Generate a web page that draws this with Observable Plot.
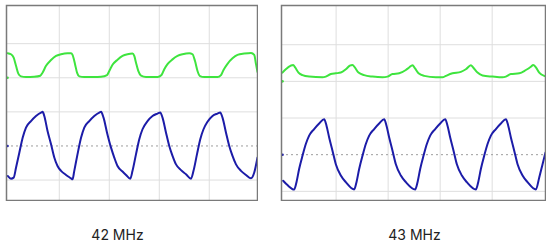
<!DOCTYPE html>
<html>
<head>
<meta charset="utf-8">
<script src="https://cdn.jsdelivr.net/npm/d3@7"></script>
<script src="https://cdn.jsdelivr.net/npm/@observablehq/plot@0.6"></script>
<style>
  html, body { margin: 0; padding: 0; background: #fff; }
  #root { position: relative; width: 550px; height: 246px; overflow: hidden; }
  .panel { position: absolute; }
  .label { position: absolute; font-family: Inter, "Noto Sans", sans-serif; font-size: 14px; color: #222; transform: translateX(-50%); white-space: nowrap; }
</style>
</head>
<body>
<div id="root"></div>
<script>
// time in ns (20 ns/div), amplitude in screen divisions
const panelLabels = ["42 MHz", "43 MHz"];
const timeGrid = [20, 40, 60, 80];
const levelGrid = [-1, 1, 2, 3];

const green42 = [[-0.65,2.72],[0.68,2.69],[1.75,2.59],[2.68,2.35],[3.61,2.12],[4.68,2.04],[6.68,2.02],[10.0,2.03],[12.4,2.06],[13.3,2.15],[14.7,2.35],[16.7,2.52],[18.7,2.64],[20.7,2.69],[23.3,2.72],[24.7,2.72],[25.3,2.67],[26.3,2.40],[27.1,2.15],[28.0,2.04],[30.0,2.02],[34.0,2.02],[36.7,2.03],[39.1,2.08],[40.0,2.20],[41.3,2.38],[43.3,2.53],[45.3,2.64],[47.3,2.69],[49.3,2.71],[50.0,2.64],[50.7,2.44],[51.6,2.20],[52.7,2.06],[54.7,2.02],[59.3,2.02],[60.9,2.08],[62.0,2.25],[63.3,2.40],[65.3,2.54],[67.3,2.64],[69.3,2.69],[72.0,2.72],[73.3,2.69],[74.3,2.49],[75.3,2.20],[76.3,2.05],[78.0,2.02],[83.3,2.02],[84.7,2.08],[85.7,2.23],[87.3,2.41],[89.3,2.57],[91.3,2.67],[94.0,2.71],[96.7,2.73],[98.0,2.67],[98.7,2.40],[99.3,2.17]];

const blue42 = [[-0.65,-0.88],[0.68,-0.96],[1.75,-0.93],[2.68,-0.64],[4.01,-0.20],[5.34,0.24],[6.68,0.54],[8.68,0.73],[10.68,0.88],[12.68,0.98],[13.34,1.0],[14.0,0.88],[15.3,0.44],[16.7,0.05],[18.0,-0.34],[19.3,-0.59],[20.7,-0.73],[22.7,-0.85],[24.7,-0.95],[25.3,-0.98],[26.0,-0.73],[27.3,-0.24],[28.7,0.24],[30.0,0.54],[32.0,0.73],[34.0,0.88],[36.0,0.98],[36.7,1.0],[37.7,0.83],[39.1,0.39],[40.7,-0.05],[42.0,-0.34],[43.3,-0.59],[45.3,-0.75],[46.7,-0.85],[48.4,-0.96],[49.3,-0.73],[50.7,-0.24],[52.0,0.20],[53.3,0.49],[55.3,0.73],[57.3,0.88],[59.3,0.95],[60.4,0.98],[61.3,0.83],[62.7,0.39],[64.0,0.0],[65.3,-0.29],[66.7,-0.54],[68.7,-0.71],[70.7,-0.83],[72.7,-0.96],[73.7,-0.73],[75.1,-0.24],[76.4,0.20],[77.7,0.49],[79.3,0.71],[81.3,0.88],[83.3,0.95],[84.4,0.98],[85.3,0.83],[86.7,0.39],[88.0,0.0],[89.3,-0.29],[90.7,-0.54],[92.7,-0.73],[94.7,-0.85],[96.7,-0.95],[98.0,-0.78],[99.3,-0.34]];

const green43 = [[-0.63,2.24],[0.66,2.33],[2.58,2.43],[3.48,2.45],[4.25,2.38],[5.53,2.24],[7.07,2.17],[9.63,2.13],[14.76,2.11],[16.04,2.13],[17.96,2.20],[19.89,2.22],[21.81,2.24],[23.73,2.33],[25.27,2.43],[26.30,2.45],[27.19,2.38],[28.6,2.24],[30.78,2.17],[33.99,2.13],[37.83,2.11],[39.76,2.13],[41.68,2.20],[44.24,2.22],[46.81,2.31],[48.09,2.38],[49.37,2.44],[50.27,2.36],[51.68,2.22],[53.86,2.15],[58.35,2.11],[60.91,2.11],[62.19,2.15],[64.75,2.22],[67.96,2.26],[69.88,2.33],[71.81,2.44],[72.70,2.38],[74.37,2.24],[76.29,2.16],[80.14,2.13],[83.99,2.11],[85.27,2.13],[87.19,2.20],[90.40,2.22],[92.96,2.31],[94.88,2.40],[95.78,2.45],[96.81,2.38],[98.09,2.24],[100.0,2.15],[100.5,2.14]];

const blue43 = [[-0.37,-0.71],[1.30,-0.83],[3.86,-0.95],[4.76,-0.75],[5.78,-0.39],[7.07,-0.03],[8.35,0.29],[9.63,0.52],[11.55,0.70],[13.48,0.85],[15.40,0.97],[16.30,0.79],[17.32,0.47],[18.60,0.11],[19.89,-0.26],[21.81,-0.57],[23.73,-0.75],[26.94,-0.95],[27.83,-0.75],[28.86,-0.39],[30.14,-0.03],[31.42,0.29],[32.71,0.52],[34.63,0.70],[36.55,0.85],[38.48,0.97],[39.37,0.79],[40.40,0.47],[41.68,0.11],[42.96,-0.26],[44.89,-0.57],[46.81,-0.75],[50.40,-0.95],[51.30,-0.75],[52.32,-0.39],[53.60,-0.03],[54.88,0.29],[56.17,0.52],[58.09,0.70],[60.01,0.85],[61.94,0.97],[62.83,0.79],[63.86,0.47],[65.14,0.11],[66.42,-0.26],[68.35,-0.57],[70.27,-0.75],[73.73,-0.95],[74.63,-0.75],[75.65,-0.39],[76.93,-0.03],[78.22,0.29],[79.50,0.52],[81.42,0.70],[83.35,0.85],[85.27,0.97],[86.17,0.79],[87.19,0.47],[88.47,0.11],[89.76,-0.26],[91.68,-0.57],[93.60,-0.75],[96.81,-0.95],[98.09,-0.62],[99.37,-0.26],[100.5,0.06]];

const GREEN = "#3ee43e", BLUE = "#1c1ca8";

function panel(green, blue, xDomain, yDomain, w, h) {
  const xy = {x: d => d[0], y: d => d[1]};
  return Plot.plot({
    width: w, height: h, margin: 1,
    x: {domain: xDomain, axis: null},
    y: {domain: yDomain, axis: null},
    marks: [
      Plot.ruleX(timeGrid, {stroke: "#dedede", strokeWidth: 1}),
      Plot.ruleY(levelGrid, {stroke: "#dedede", strokeWidth: 1}),
      Plot.ruleY([0], {stroke: "#9c9c9c", strokeWidth: 1, strokeDasharray: "2,3"}),
      Plot.line(green, {...xy, stroke: GREEN, strokeWidth: 2, curve: "monotone-x"}),
      Plot.line(blue, {...xy, stroke: BLUE, strokeWidth: 2, curve: "monotone-x"}),
      Plot.dot([[xDomain[0], 2.0]], {...xy, r: 1.3, fill: GREEN, stroke: null, dx: 1}),
      Plot.dot([[xDomain[0], 0]], {...xy, r: 1.3, fill: BLUE, stroke: null, dx: 1}),
      Plot.frame({stroke: "#7a7a7a", strokeWidth: 1.5})
    ]
  });
}

const root = document.getElementById("root");
function place(node, left, top) {
  const d = document.createElement("div");
  d.className = "panel";
  d.style.left = left + "px";
  d.style.top = top + "px";
  d.appendChild(node);
  root.appendChild(d);
}
place(panel(green42, blue42, [-1.12, 99.3], [-1.60, 4.12], 253, 197), 4.5, 3.5);
place(panel(green43, blue43, [-1.0, 100.5], [-1.25, 4.07], 266, 197), 279.7, 3.7);

[[panelLabels[0], 117.5], [panelLabels[1], 414.5]].forEach(([t, x]) => {
  const s = document.createElement("div");
  s.className = "label";
  s.textContent = t;
  s.style.left = x + "px";
  s.style.top = "226px";
  root.appendChild(s);
});
</script>
</body>
</html>
